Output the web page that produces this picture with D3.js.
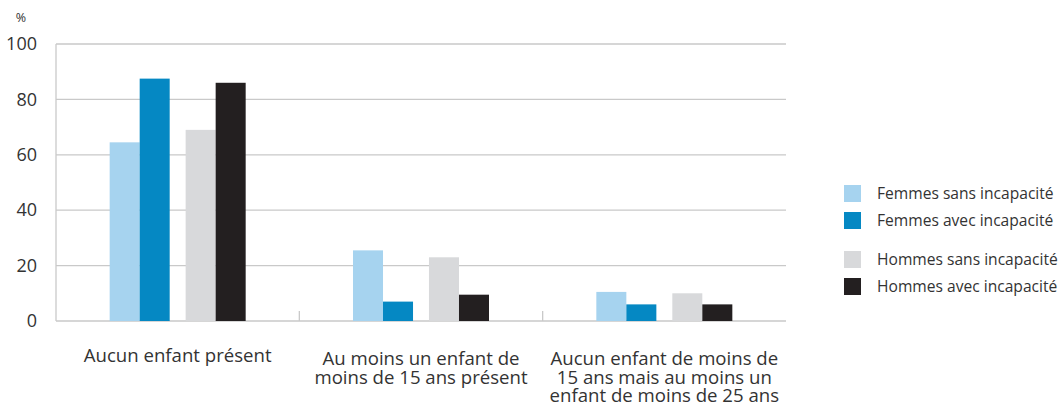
<!DOCTYPE html>
<html>
<head>
<meta charset="utf-8">
<script src="https://cdn.jsdelivr.net/npm/d3@7"></script>
<style>
  body { margin: 0; background: #fff; }
  svg { font-family: "Open Sans", sans-serif; }
</style>
</head>
<body>
<div id="vis"></div>
<script>
const FRAME_WIDTH = 1064;
const FRAME_HEIGHT = 406;
const MARGINS = {left: 56, right: 278, top: 44, bottom: 85};

const VIS_WIDTH = FRAME_WIDTH - MARGINS.left - MARGINS.right;
const VIS_HEIGHT = FRAME_HEIGHT - MARGINS.top - MARGINS.bottom;

// data
const categories = [
  ["Aucun enfant présent"],
  ["Au moins un enfant de", "moins de 15 ans présent"],
  ["Aucun enfant de moins de", "15 ans mais au moins un", "enfant de moins de 25 ans"]
];
const seriesNames = ["Femmes sans incapacité", "Femmes avec incapacité",
                     "Hommes sans incapacité", "Hommes avec incapacité"];
const femmesSans = [64.5, 25.5, 10.5];
const femmesAvec = [87.5, 7, 6];
const hommesSans = [69, 23, 10];
const hommesAvec = [86, 9.5, 6];
const yTicks = [0, 20, 40, 60, 80, 100];

const colors = ["#a6d3ef", "#0588c3", "#d8d9db", "#231f20"];
const allSeries = [femmesSans, femmesAvec, hommesSans, hommesAvec];

const FRAME = d3.select("#vis")
  .append("svg")
    .attr("width", FRAME_WIDTH)
    .attr("height", FRAME_HEIGHT);

const g = FRAME.append("g")
  .attr("transform", "translate(" + MARGINS.left + "," + MARGINS.top + ")");

const catIdx = categories.map((c, i) => i);

const X_SCALE = d3.scaleBand()
  .domain(catIdx)
  .range([0, VIS_WIDTH])
  .padding(0);

// sex pairs inside each band, then two bars inside each pair
const bw = X_SCALE.bandwidth();
const PAIR_SCALE = d3.scaleBand()
  .domain([0, 1])
  .range([bw / 2 - 68, bw / 2 + 68])
  .paddingInner(0.21)
  .paddingOuter(0);
const BAR_SCALE = d3.scaleBand()
  .domain([0, 1])
  .range([0, PAIR_SCALE.bandwidth()])
  .padding(0);

const Y_SCALE = d3.scaleLinear()
  .domain([0, 100])
  .range([VIS_HEIGHT, 0]);

// gridlines
g.append("g")
  .selectAll("line")
  .data(yTicks)
  .enter()
  .append("line")
    .attr("x1", 0)
    .attr("x2", VIS_WIDTH)
    .attr("y1", (d) => Y_SCALE(d))
    .attr("y2", (d) => Y_SCALE(d))
    .attr("stroke", "#c9c9c9")
    .attr("stroke-width", 1.3);

// left axis line
g.append("line")
  .attr("x1", 0).attr("x2", 0)
  .attr("y1", Y_SCALE(100)).attr("y2", Y_SCALE(0))
  .attr("stroke", "#c9c9c9")
  .attr("stroke-width", 1.3);

// y axis labels
const yAxis = g.append("g")
  .call(d3.axisLeft(Y_SCALE).tickValues(yTicks).tickSize(0).tickPadding(19));
yAxis.select(".domain").remove();
yAxis.selectAll("text")
  .attr("font-size", "18px")
  .attr("fill", "#333")
  .style("font-family", "'Open Sans', sans-serif");

// band separator ticks
g.append("g")
  .selectAll("line")
  .data(catIdx.slice(1))
  .enter()
  .append("line")
    .attr("x1", (d) => X_SCALE(d))
    .attr("x2", (d) => X_SCALE(d))
    .attr("y1", VIS_HEIGHT - 10)
    .attr("y2", VIS_HEIGHT)
    .attr("stroke", "#c9c9c9")
    .attr("stroke-width", 1.3);

// bars
allSeries.forEach((vals, s) => {
  g.append("g")
    .selectAll("rect")
    .data(vals)
    .enter()
    .append("rect")
      .attr("x", (d, i) => X_SCALE(i) + PAIR_SCALE(Math.floor(s / 2)) + BAR_SCALE(s % 2))
      .attr("width", BAR_SCALE.bandwidth())
      .attr("y", (d) => Y_SCALE(d))
      .attr("height", (d) => VIS_HEIGHT - Y_SCALE(d))
      .attr("fill", colors[s]);
});

// category labels
const labels = g.append("g")
  .selectAll("text")
  .data(categories)
  .enter()
  .append("text")
    .attr("x", (d, i) => X_SCALE(i) + bw / 2)
    .attr("y", (d) => VIS_HEIGHT + (d.length > 1 ? 44 : 41))
    .attr("text-anchor", "middle")
    .attr("font-size", "18.6px")
    .attr("fill", "#333");
labels.selectAll("tspan")
  .data((d) => d)
  .enter()
  .append("tspan")
    .attr("x", function () { return d3.select(this.parentNode).attr("x"); })
    .attr("dy", (d, i) => i === 0 ? 0 : 18.5)
    .text((d) => d);

// unit
FRAME.append("text")
  .attr("x", 21)
  .attr("y", 22)
  .attr("text-anchor", "middle")
  .attr("font-size", "12.5px")
  .attr("fill", "#333")
  .text("%");

// legend
const legendY = [185, 212, 251, 278];
const legend = FRAME.append("g")
  .selectAll("g")
  .data(seriesNames)
  .enter()
  .append("g")
    .attr("transform", (d, i) => "translate(844," + legendY[i] + ")");
legend.append("rect")
  .attr("width", 17)
  .attr("height", 17)
  .attr("fill", (d, i) => colors[i]);
legend.append("text")
  .attr("x", 33)
  .attr("y", 14)
  .attr("font-size", "15.6px")
  .attr("fill", "#333")
  .text((d) => d);
</script>
</body>
</html>
